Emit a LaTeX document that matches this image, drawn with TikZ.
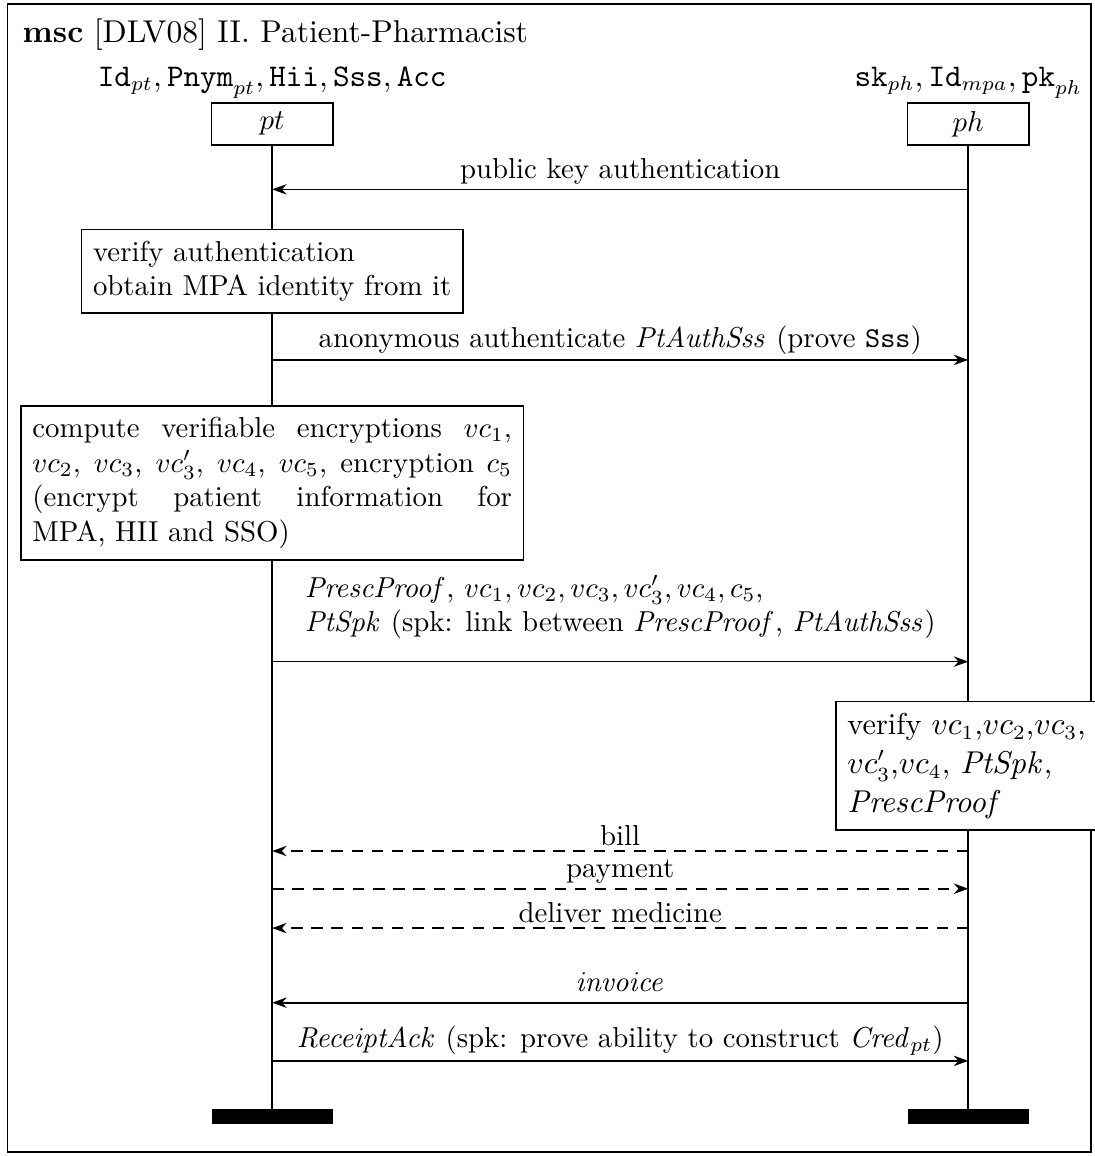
\documentclass[tikz,border=0pt]{standalone}
\usetikzlibrary{arrows,arrows.meta,shapes,positioning}

\begin{document}
\begin{tikzpicture}[>={Stealth[length=5pt, width=3.6pt, inset=1.6pt]}]
	\tikzstyle{inst} = [
		draw,
		semithick,
		minimum width=1.48cm,
		minimum height=0.51cm,
		inner sep=0pt
	]
	\tikzstyle{instend} = [fill=black, minimum width=1.48cm, minimum height=0.18cm, inner sep=0pt]
	\tikzstyle{action} = [draw, semithick, fill=white, inner sep=4pt]
	\tikzstyle{msg} = [semithick, ->]
	\tikzstyle{lbl} = [above, inner sep=1.5pt]
	\tikzstyle{dashmsg} = [dash pattern=on 4pt off 3pt]

	\useasboundingbox (0,0) rectangle (13.35,14.10);
	\draw [semithick] (0.09,0.05) rectangle (13.31,14.05);

	\node (title) [anchor=base west, inner sep=0pt, font=\fontsize{10.95}{13}\selectfont] at (0.27,13.58) {\textbf{msc} [DLV08] II. Patient-Pharmacist};

	% instances
	\node (pt) [style=inst] at (3.32,12.59) {$pt$};
	\node (ph) [style=inst] at (11.81,12.59) {$ph$};
	\node (ptvars) [above=0pt of pt, inner sep=1pt, font=\fontsize{10.6}{12}\selectfont] {$\mathtt{Id}_{pt}, \mathtt{Pnym}_{pt}, \mathtt{Hii}, \mathtt{Sss}, \mathtt{Acc}$};
	\node (phvars) [above=0pt of ph, inner sep=1pt, font=\fontsize{10.6}{12}\selectfont] {$\mathtt{sk}_{ph}, \mathtt{Id}_{mpa}, \mathtt{pk}_{ph}$};

	\node (ptend) [style=instend] at (3.32,0.48) {};
	\node (phend) [style=instend] at (11.81,0.48) {};

	\draw [semithick] (pt) -- (ptend);
	\draw [semithick] (ph) -- (phend);

	% message points on the lifelines
	\coordinate (pt1) at (3.32,11.79);
	\coordinate (ph1) at (11.81,11.79);
	\coordinate (pt2) at (3.32,9.71);
	\coordinate (ph2) at (11.81,9.71);
	\coordinate (pt3) at (3.32,6.03);
	\coordinate (ph3) at (11.81,6.03);
	\coordinate (pt4) at (3.32,3.72);
	\coordinate (ph4) at (11.81,3.72);
	\coordinate (pt5) at (3.32,3.26);
	\coordinate (ph5) at (11.81,3.26);
	\coordinate (pt6) at (3.32,2.78);
	\coordinate (ph6) at (11.81,2.78);
	\coordinate (pt7) at (3.32,1.87);
	\coordinate (ph7) at (11.81,1.87);
	\coordinate (pt8) at (3.32,1.16);
	\coordinate (ph8) at (11.81,1.16);

	% local actions
	\node (verauth) [style=action, align=left] at (3.32,10.79) {verify authentication\\obtain MPA identity from it};
	\node (encrypt) [style=action, text width=5.85cm, align=justify] at (3.32,8.21) {compute verifiable encryptions $vc_1$,\linebreak $vc_2$, $vc_3$, $vc'_3$, $vc_4$, $vc_5$, encryption $c_5$\linebreak (encrypt patient information for\linebreak MPA, HII and SSO)};
	\node (verify) [style=action, align=left, font=\fontsize{10.5}{13.5}\selectfont] at (11.79,4.76) {verify $vc_1$,$vc_2$,$vc_3$,\\$vc'_3$,$vc_4$, $\mathit{PtSpk}$,\\$\mathit{PrescProof}$};

	% messages
	\draw [style=msg] (ph1) -- node [style=lbl] (l1) {public key authentication} (pt1);
	\draw [style=msg] (pt2) -- node [style=lbl] (l2) {anonymous authenticate $\mathit{PtAuthSss}$ (prove $\mathtt{Sss}$)} (ph2);
	\draw [style=msg] (pt3) -- node [style=lbl, align=left, yshift=6pt] (l3) {$\mathit{PrescProof}$, $vc_1, vc_2, vc_3, vc'_3, vc_4, c_5$,\\$\mathit{PtSpk}$ (spk: link between $\mathit{PrescProof}$, $\mathit{PtAuthSss}$)} (ph3);
	\draw [style=msg, style=dashmsg] (ph4) -- node [style=lbl] (l4) {bill} (pt4);
	\draw [style=msg, style=dashmsg] (pt5) -- node [style=lbl] (l5) {payment} (ph5);
	\draw [style=msg, style=dashmsg] (ph6) -- node [style=lbl] (l6) {deliver medicine} (pt6);
	\draw [style=msg] (ph7) -- node [style=lbl, yshift=2pt] (l7) {$\mathit{invoice}$} (pt7);
	\draw [style=msg] (pt8) -- node [style=lbl] (l8) {$\mathit{ReceiptAck}$ (spk: prove ability to construct $\mathit{Cred}_{pt}$)} (ph8);

\end{tikzpicture}
\end{document}
